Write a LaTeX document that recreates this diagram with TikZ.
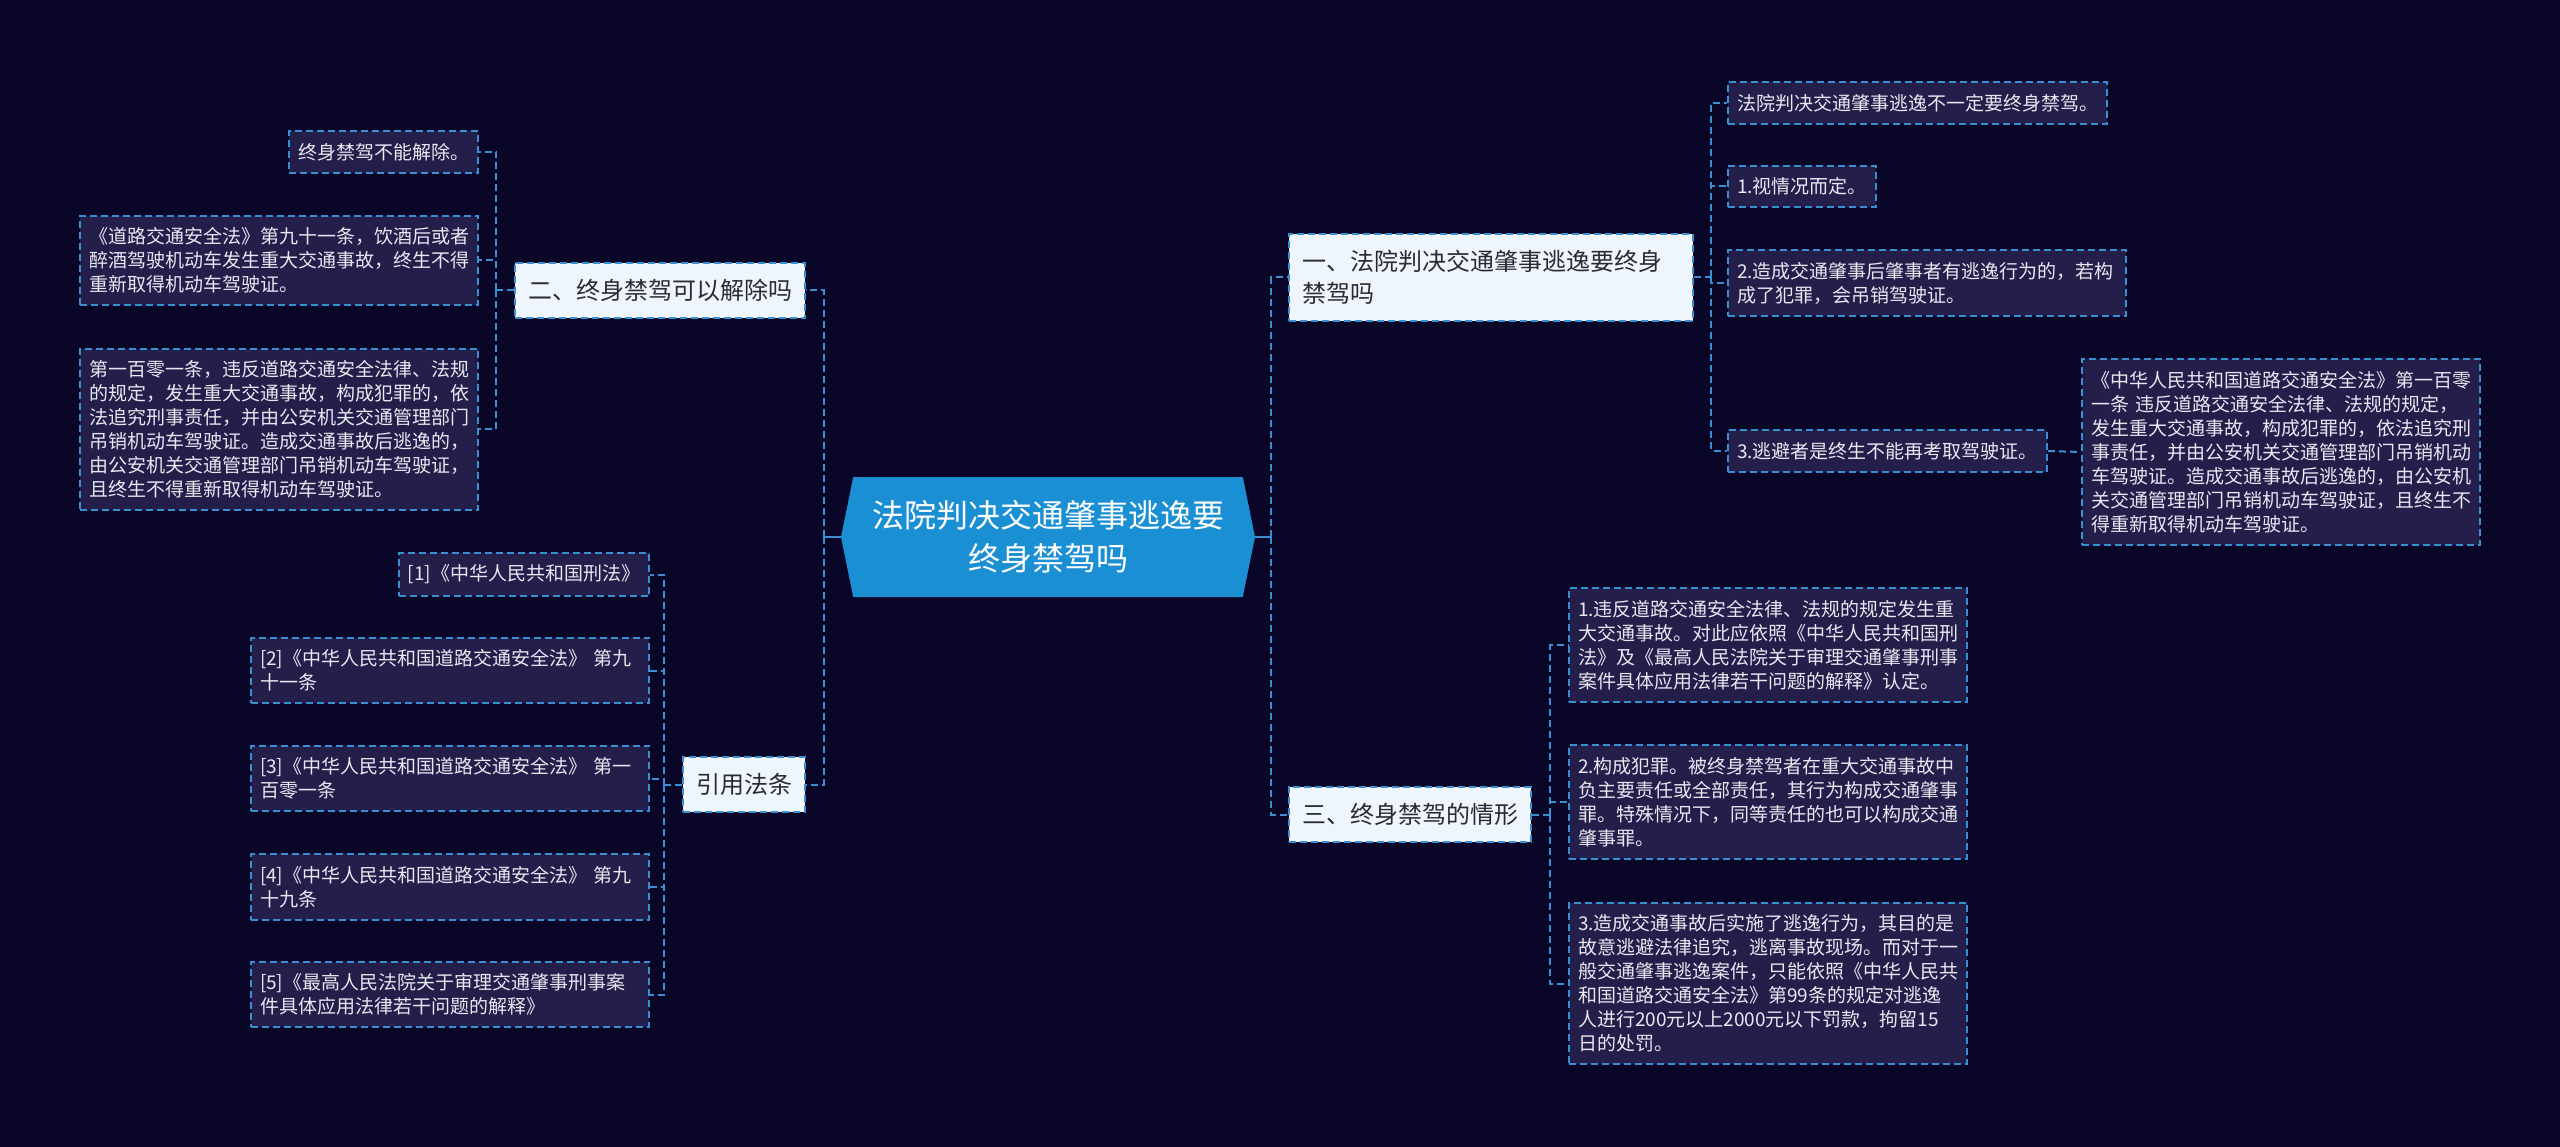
\documentclass[tikz,border=0pt]{standalone}
\usepackage{fontspec}
\setmainfont{Noto Sans CJK SC}
\usepackage{tikz}
\usetikzlibrary{shapes.symbols}

\definecolor{bgnavy}{HTML}{0A0628}
\definecolor{leaffill}{HTML}{231F4A}
\definecolor{linkblue}{HTML}{3A8FD3}
\definecolor{rootblue}{HTML}{1B8FD4}
\definecolor{branchfill}{HTML}{EEF5FD}
\definecolor{leaftext}{HTML}{E8E8F2}
\definecolor{branchtext}{HTML}{2A2A33}

\begin{document}
\begin{tikzpicture}[
    x=1pt, y=-1pt,
    leaf/.style={draw=linkblue, fill=leaffill, line width=2pt, dash pattern=on 7pt off 4pt, text=leaftext, font=\fontsize{19}{24}\selectfont, align=left, inner xsep=9pt, inner ysep=12pt},
    wideleaf/.style={leaf, text width=380pt},
    branch/.style={draw=linkblue, fill=branchfill, line width=2pt, dash pattern=on 7pt off 4pt, text=branchtext, font=\fontsize{24}{32}\selectfont, align=left, inner xsep=13pt, inner ysep=16.5pt},
    link/.style={draw=linkblue, line width=2pt, dash pattern=on 7pt off 4pt},
    stem/.style={draw=linkblue, line width=2pt},
]
  % background and page size
  \fill[bgnavy] (0,0) rectangle (2560,1147);
  \useasboundingbox (0,0) rectangle (2560,1147);

  % Root
  \node[signal, signal to=east and west, signal pointer angle=157, fill=rootblue, text=white, minimum width=414pt, minimum height=120pt, inner sep=0pt, align=center, font=\fontsize{32}{43}\selectfont] (root) at (1048, 537) {法院判决交通肇事逃逸要\\终身禁驾吗};

  % Branches
  \node[branch, text width=378pt, anchor=west] (ban) at (1288, 277.5) {一、法院判决交通肇事逃逸要终身\\禁驾吗};
  \node[branch, anchor=east] (lift) at (806, 290.5) {二、终身禁驾可以解除吗};
  \node[branch, anchor=west] (cases) at (1288, 814.5) {三、终身禁驾的情形};
  \node[branch, anchor=east] (laws) at (806, 784.5) {引用法条};

  % Branch 1 leaves
  \node[leaf, anchor=west] (notall) at (1727, 103) {法院判决交通肇事逃逸不一定要终身禁驾。};
  \node[leaf, anchor=west] (depend) at (1727, 186.5) {1.视情况而定。};
  \node[wideleaf, anchor=west] (revoke) at (1727, 283) {2.造成交通肇事后肇事者有逃逸行为的，若构\\成了犯罪，会吊销驾驶证。};
  \node[leaf, anchor=west] (never) at (1727, 451) {3.逃避者是终生不能再考取驾驶证。};
  \node[wideleaf, anchor=west] (art101) at (2081, 452) {《中华人民共和国道路交通安全法》第一百零\\一条 违反道路交通安全法律、法规的规定，\\发生重大交通事故，构成犯罪的，依法追究刑\\事责任，并由公安机关交通管理部门吊销机动\\车驾驶证。造成交通事故后逃逸的，由公安机\\关交通管理部门吊销机动车驾驶证，且终生不\\得重新取得机动车驾驶证。};

  % Branch 2 leaves
  \node[leaf, anchor=east] (nolift) at (479, 152) {终身禁驾不能解除。};
  \node[wideleaf, anchor=east] (art91) at (479, 260.5) {《道路交通安全法》第九十一条，饮酒后或者\\醉酒驾驶机动车发生重大交通事故，终生不得\\重新取得机动车驾驶证。};
  \node[wideleaf, anchor=east] (art101b) at (479, 429.5) {第一百零一条，违反道路交通安全法律、法规\\的规定，发生重大交通事故，构成犯罪的，依\\法追究刑事责任，并由公安机关交通管理部门\\吊销机动车驾驶证。造成交通事故后逃逸的，\\由公安机关交通管理部门吊销机动车驾驶证，\\且终生不得重新取得机动车驾驶证。};

  % Branch 3 leaves
  \node[wideleaf, anchor=west] (case1) at (1568, 645) {1.违反道路交通安全法律、法规的规定发生重\\大交通事故。对此应依照《中华人民共和国刑\\法》及《最高人民法院关于审理交通肇事刑事\\案件具体应用法律若干问题的解释》认定。};
  \node[wideleaf, anchor=west] (case2) at (1568, 802) {2.构成犯罪。被终身禁驾者在重大交通事故中\\负主要责任或全部责任，其行为构成交通肇事\\罪。特殊情况下，同等责任的也可以构成交通\\肇事罪。};
  \node[wideleaf, anchor=west] (case3) at (1568, 983.5) {3.造成交通事故后实施了逃逸行为，其目的是\\故意逃避法律追究，逃离事故现场。而对于一\\般交通肇事逃逸案件，只能依照《中华人民共\\和国道路交通安全法》第99条的规定对逃逸\\人进行200元以上2000元以下罚款，拘留15\\日的处罚。};

  % References
  \node[leaf, anchor=east] (ref1) at (650, 574.5) {[1]《中华人民共和国刑法》};
  \node[wideleaf, anchor=east] (ref2) at (650, 670.5) {[2]《中华人民共和国道路交通安全法》 第九\\十一条};
  \node[wideleaf, anchor=east] (ref3) at (650, 778.5) {[3]《中华人民共和国道路交通安全法》 第一\\百零一条};
  \node[wideleaf, anchor=east] (ref4) at (650, 887) {[4]《中华人民共和国道路交通安全法》 第九\\十九条};
  \node[wideleaf, anchor=east] (ref5) at (650, 994.5) {[5]《最高人民法院关于审理交通肇事刑事案\\件具体应用法律若干问题的解释》};

  % Root to branches
  \draw[stem] (root.west) -- ++(-17,0) coordinate (lhub);
  \draw[stem] (root.east) -- ++(16,0) coordinate (rhub);
  \draw[link] (lhub) |- (lift.east);
  \draw[link] (lhub) |- (laws.east);
  \draw[link] (rhub) |- (ban.west);
  \draw[link] (rhub) |- (cases.west);

  % Branch 1 links
  \draw[link] (ban.east) -- ++(17,0) coordinate (banhub);
  \draw[link] (banhub) |- (notall.west);
  \draw[link] (banhub) |- (depend.west);
  \draw[link] (banhub) |- (revoke.west);
  \draw[link] (banhub) |- (never.west);
  \draw[link] (never.east) -- (art101.west);

  % Branch 2 links
  \draw[link] (lift.west) -- ++(-18,0) coordinate (lifthub);
  \draw[link] (lifthub) |- (nolift.east);
  \draw[link] (lifthub) |- (art91.east);
  \draw[link] (lifthub) |- (art101b.east);

  % Branch 3 links
  \draw[link] (cases.east) -- ++(18,0) coordinate (caseshub);
  \draw[link] (caseshub) |- (case1.west);
  \draw[link] (caseshub) |- (case2.west);
  \draw[link] (caseshub) |- (case3.west);

  % Reference links
  \draw[link] (laws.west) -- ++(-18,0) coordinate (lawshub);
  \draw[link] (lawshub) |- (ref1.east);
  \draw[link] (lawshub) |- (ref2.east);
  \draw[link] (lawshub) |- (ref3.east);
  \draw[link] (lawshub) |- (ref4.east);
  \draw[link] (lawshub) |- (ref5.east);
\end{tikzpicture}
\end{document}
